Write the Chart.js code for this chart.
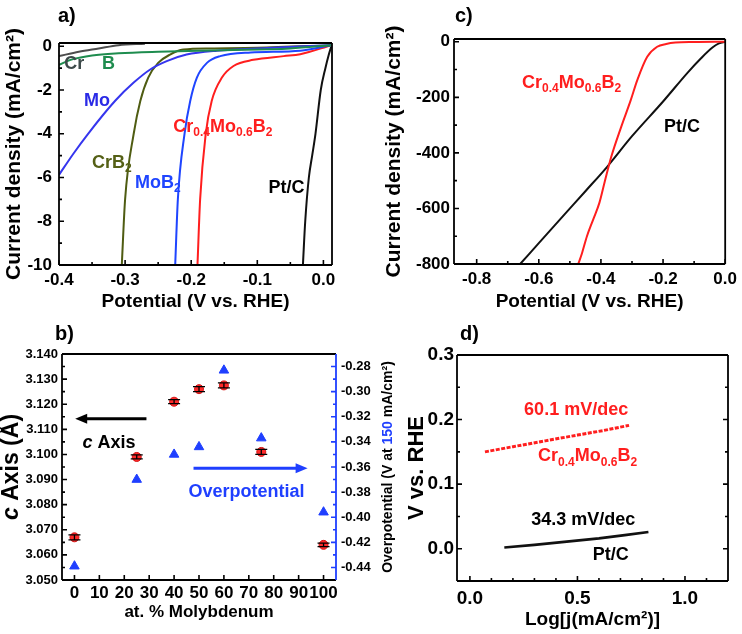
<!DOCTYPE html>
<html>
<head>
<meta charset="utf-8">
<script src="https://cdn.jsdelivr.net/npm/chart.js@4.4.0/dist/chart.umd.min.js"></script>
<style>
  body { margin: 0; background: #fff; }
  #wrap { position: relative; width: 742px; height: 634px; overflow: hidden; background: #fff; }
  canvas { position: absolute; }
  .tag { position: absolute; font: bold 20px "Liberation Sans", Arial, sans-serif; line-height: 1; color: #000; }
</style>
</head>
<body>
<div id="wrap">
  <canvas id="panelA" width="371" height="318" style="left:0;top:0"></canvas>
  <canvas id="panelC" width="371" height="318" style="left:371px;top:0"></canvas>
  <canvas id="panelB" width="400" height="316" style="left:0;top:318px"></canvas>
  <canvas id="panelD" width="342" height="316" style="left:400px;top:318px"></canvas>
  <div class="tag" style="left:58px;top:5px">a)</div>
  <div class="tag" style="left:455px;top:5px">c)</div>
  <div class="tag" style="left:55px;top:323px">b)</div>
  <div class="tag" style="left:460px;top:323px">d)</div>
</div>
<script>
// a) polarisation curves, low current range (V vs. RHE, mA/cm2)
var crV = [-0.4, -0.37, -0.34, -0.31, -0.27];
var crJ = [-0.45, -0.25, -0.1, 0.05, 0.12];
var bV = [-0.4, -0.38, -0.35, -0.31, -0.25, -0.15, -0.05, 0.012];
var bJ = [-0.85, -0.6, -0.42, -0.32, -0.25, -0.18, -0.1, 0.05];
var moV = [-0.4, -0.378, -0.356, -0.315, -0.287, -0.262, -0.237, -0.207, -0.161, -0.085, 0.012];
var moJ = [-5.88, -4.9, -4.0, -2.49, -1.66, -1.06, -0.68, -0.38, -0.2, -0.08, 0.05];
var crb2V = [-0.305, -0.3, -0.287, -0.277, -0.265, -0.25, -0.232, -0.212, -0.17, -0.1, 0.012];
var crb2J = [-10, -7, -4, -2.5, -1.43, -0.76, -0.38, -0.15, -0.1, -0.07, 0.05];
var mob2V = [-0.2242, -0.2202, -0.2101, -0.2015, -0.1914, -0.1762, -0.156, -0.11, -0.035, 0.012];
var mob2J = [-10, -7, -4, -2.5, -1.43, -0.76, -0.45, -0.28, -0.2, 0.05];
var crmoV = [-0.1905, -0.1865, -0.178, -0.169, -0.1535, -0.136, -0.106, -0.06, -0.035, 0.012];
var crmoJ = [-10, -7, -4, -2.5, -1.43, -0.9, -0.62, -0.45, -0.36, 0.05];
var ptV = [-0.031, -0.0275, -0.022, -0.017, -0.012, -0.004, 0.003, 0.008, 0.012];
var ptJ = [-10, -8, -6, -5, -4, -2, -1, -0.4, 0];

// c) high current range
var ptHiV = [-0.66, -0.6, -0.52, -0.45, -0.38, -0.3, -0.2, -0.12, -0.08, -0.04, -0.02, 0];
var ptHiJ = [-800, -725, -625, -538, -450, -340, -215, -110, -62, -20, -6, 0];
var crmoHiV = [-0.473, -0.462, -0.445, -0.425, -0.405, -0.388, -0.367, -0.335, -0.304, -0.283, -0.251, -0.219, -0.19, -0.16, -0.1, 0];
var crmoHiJ = [-800, -765, -700, -640, -580, -505, -415, -307, -210, -138, -54, -18, -8, -3, -1, 0];

// b) lattice parameter and overpotential vs Mo content
var moPct = [0, 25, 40, 50, 60, 75, 100];
var cAxis = [3.067, 3.099, 3.121, 3.126, 3.1275, 3.101, 3.064];
var cAxisErr = [0.001, 0.0008, 0.0008, 0.001, 0.001, 0.001, 0.0007];
var overpot = [-0.439, -0.370, -0.350, -0.344, -0.283, -0.337, -0.396];

// d) Tafel lines
var tafelCrMoX = [0.07, 0.2, 0.35, 0.5, 0.62, 0.74];
var tafelCrMoV = [0.150, 0.158, 0.167, 0.176, 0.183, 0.191];
var tafelPtX = [0.16, 0.3, 0.45, 0.6, 0.72, 0.83];
var tafelPtV = [0.002, 0.006, 0.011, 0.016, 0.021, 0.026];

// tick values
var aXTicks = [-0.4, -0.3, -0.2, -0.1, 0.0];
var aYTicks = [-10, -8, -6, -4, -2, 0];
var cXTicks = [-0.8, -0.6, -0.4, -0.2, 0.0];
var cYTicks = [-800, -600, -400, -200, 0];
var bXTicks = [0, 10, 20, 30, 40, 50, 60, 70, 80, 90, 100];
var bYTicks = [3.05, 3.06, 3.07, 3.08, 3.09, 3.10, 3.11, 3.12, 3.13, 3.14];
var bY1Ticks = [-0.44, -0.42, -0.40, -0.38, -0.36, -0.34, -0.32, -0.30, -0.28];
var dXTicks = [0.0, 0.5, 1.0];
var dYTicks = [0.0, 0.1, 0.2, 0.3];

var FONT = '"Liberation Sans", Arial, sans-serif';
var BLUE = '#1f3fff';
var RED = '#ff1e1e';

Chart.defaults.font.family = FONT;
Chart.defaults.font.weight = 'bold';
Chart.defaults.color = '#000';
Chart.defaults.animation = false;
Chart.defaults.plugins.legend.display = false;
Chart.defaults.plugins.tooltip.enabled = false;

function pts(xs, ys) {
    return xs.map(function (x, i) { return { x: x, y: ys[i] }; });
}

function curve(xs, ys, color, width) {
    return {
        data: pts(xs, ys),
        showLine: true,
        borderColor: color,
        borderWidth: width || 2,
        pointRadius: 0,
        cubicInterpolationMode: 'monotone',
        fill: false
    };
}

function fontFor(size, italic) {
    return (italic ? 'italic ' : '') + 'bold ' + size + 'px ' + FONT;
}

// text with sub/superscripts, italics and per-part colours
function drawRich(ctx, parts, x, y, size, color, align) {
    var segs = parts.map(function (p) {
        var s = (p.sub || p.sup) ? Math.round(size * 0.66) : size;
        ctx.font = fontFor(s, p.it);
        return { p: p, s: s, w: ctx.measureText(p.t).width };
    });
    var total = segs.reduce(function (acc, g) { return acc + g.w; }, 0);
    var cx = align === 'center' ? x - total / 2 : x;
    ctx.textBaseline = 'middle';
    ctx.textAlign = 'left';
    segs.forEach(function (g) {
        ctx.font = fontFor(g.s, g.p.it);
        ctx.fillStyle = g.p.c || color;
        var dy = g.p.sub ? size * 0.32 : (g.p.sup ? -size * 0.35 : 0);
        ctx.fillText(g.p.t, cx, y + dy);
        cx += g.w;
    });
}

var crMoB2 = [{ t: 'Cr' }, { t: '0.4', sub: 1 }, { t: 'Mo' }, { t: '0.6', sub: 1 }, { t: 'B' }, { t: '2', sub: 1 }];

function axis(o) {
    return {
        type: 'linear',
        position: o.position,
        min: o.min,
        max: o.max,
        grid: { display: false, drawTicks: false },
        border: { display: false },
        afterBuildTicks: function (s) {
            s.ticks = o.ticks.map(function (v) { return { value: v }; });
        },
        afterFit: function (s) {
            if (s.isHorizontal()) { s.height = o.size; } else { s.width = o.size; }
        },
        ticks: {
            font: { size: o.font },
            padding: o.pad,
            autoSkip: false,
            maxRotation: 0,
            minRotation: 0,
            callback: function (v) { return Number(v).toFixed(o.dec); }
        },
        title: o.title ? {
            display: true,
            text: o.title,
            font: { size: o.titleSize },
            padding: o.titlePad
        } : { display: false }
    };
}

// box border and inward ticks (major + minor)
var framePlugin = {
    id: 'frame',
    afterDatasetsDraw: function (chart, args, o) {
        var ctx = chart.ctx, a = chart.chartArea;
        ctx.save();
        ctx.lineWidth = 1.6;
        (o.ticks || []).forEach(function (t) {
            var sc = chart.scales[t.scale];
            var vals = sc.ticks.map(function (k) { return k.value; });
            var marks = vals.map(function (v) { return [v, 5]; });
            if (t.minor > 1) {
                var step = (vals[1] - vals[0]) / t.minor;
                for (var i = -60; i < 400; i++) {
                    if (i % t.minor === 0) continue;
                    var v = vals[0] + i * step;
                    if (v > sc.min && v < sc.max) marks.push([v, 3]);
                }
            }
            ctx.strokeStyle = t.color || '#000';
            ctx.beginPath();
            marks.forEach(function (m) {
                var p = sc.getPixelForValue(m[0]);
                if (t.edge === 'bottom') { ctx.moveTo(p, a.bottom); ctx.lineTo(p, a.bottom - m[1]); }
                if (t.edge === 'left') { ctx.moveTo(a.left, p); ctx.lineTo(a.left + m[1], p); }
                if (t.edge === 'right') { ctx.moveTo(a.right, p); ctx.lineTo(a.right - m[1], p); }
            });
            ctx.stroke();
        });
        var e = o.edges || {};
        function edge(x1, y1, x2, y2, c) {
            ctx.strokeStyle = c || '#000';
            ctx.beginPath(); ctx.moveTo(x1, y1); ctx.lineTo(x2, y2); ctx.stroke();
        }
        ctx.lineWidth = 1.8;
        edge(a.left, a.top, a.right, a.top, e.top);
        edge(a.left, a.bottom, a.right, a.bottom, e.bottom);
        edge(a.left, a.top, a.left, a.bottom, e.left);
        edge(a.right, a.top, a.right, a.bottom, e.right);
        ctx.restore();
    }
};

// labels, arrows, error bars and rotated rich titles
var notesPlugin = {
    id: 'notes',
    afterDatasetsDraw: function (chart, args, o) {
        var ctx = chart.ctx;
        ctx.save();
        if (o.errors) {
            var meta = chart.getDatasetMeta(o.errors.dataset);
            var ys = chart.scales[o.errors.scale];
            var src = chart.data.datasets[o.errors.dataset].data;
            var cap = o.errors.cap;
            ctx.strokeStyle = '#000';
            ctx.lineWidth = 1.3;
            meta.data.forEach(function (pt, i) {
                var v = src[i].y, e = o.errors.values[i];
                var top = ys.getPixelForValue(v + e), bot = ys.getPixelForValue(v - e);
                ctx.beginPath();
                ctx.moveTo(pt.x, top); ctx.lineTo(pt.x, bot);
                ctx.moveTo(pt.x - cap, top); ctx.lineTo(pt.x + cap, top);
                ctx.moveTo(pt.x - cap, bot); ctx.lineTo(pt.x + cap, bot);
                ctx.stroke();
            });
        }
        (o.arrows || []).forEach(function (ar) {
            var xs = chart.scales.x, ys = chart.scales[ar.ys || 'y'];
            var x1 = xs.getPixelForValue(ar.from), x2 = xs.getPixelForValue(ar.to);
            var y = ys.getPixelForValue(ar.y);
            var dir = x2 > x1 ? 1 : -1;
            ctx.strokeStyle = ar.color;
            ctx.fillStyle = ar.color;
            ctx.lineWidth = 3;
            ctx.beginPath();
            ctx.moveTo(x1, y); ctx.lineTo(x2 - dir * 10, y);
            ctx.stroke();
            ctx.beginPath();
            ctx.moveTo(x2, y);
            ctx.lineTo(x2 - dir * 12, y - 5);
            ctx.lineTo(x2 - dir * 12, y + 5);
            ctx.closePath();
            ctx.fill();
        });
        (o.items || []).forEach(function (it) {
            var x = chart.scales[it.xs || 'x'].getPixelForValue(it.x);
            var y = chart.scales[it.ys || 'y'].getPixelForValue(it.y);
            drawRich(ctx, it.parts, x, y, it.size, it.color, 'left');
        });
        (o.vtitles || []).forEach(function (t) {
            var a = chart.chartArea;
            ctx.save();
            ctx.translate(t.x, (a.top + a.bottom) / 2);
            ctx.rotate(-Math.PI / 2);
            drawRich(ctx, t.parts, 0, 0, t.size, '#000', 'center');
            ctx.restore();
        });
        ctx.restore();
    }
};

// ---- panel a ----
new Chart(document.getElementById('panelA'), {
    type: 'scatter',
    data: {
        datasets: [
            curve(crV, crJ, '#4d4d4d'),
            curve(bV, bJ, '#1e8c4e'),
            curve(moV, moJ, '#3535ee'),
            curve(crb2V, crb2J, '#4f5c12'),
            curve(mob2V, mob2J, '#1f45ff'),
            curve(crmoV, crmoJ, RED),
            curve(ptV, ptJ, '#111')
        ]
    },
    options: {
        responsive: false,
        layout: { padding: { top: 43, right: 39, left: 0, bottom: 0 } },
        scales: {
            x: axis({ position: 'bottom', min: -0.4, max: 0.013, ticks: aXTicks, size: 53, font: 17, pad: 5, dec: 1,
                title: 'Potential (V vs. RHE)', titleSize: 19, titlePad: { top: 0, bottom: 5 } }),
            y: axis({ position: 'left', min: -10, max: 0.15, ticks: aYTicks, size: 59, font: 17, pad: 7, dec: 0,
                title: 'Current density (mA/cm²)', titleSize: 21, titlePad: { top: 2, bottom: 0 } })
        },
        plugins: {
            frame: { ticks: [{ scale: 'x', edge: 'bottom', minor: 2 }, { scale: 'y', edge: 'left', minor: 2 }] },
            notes: {
                items: [
                    { x: -0.392, y: -0.81, parts: [{ t: 'Cr' }], size: 18, color: '#3d4a4a' },
                    { x: -0.335, y: -0.81, parts: [{ t: 'B' }], size: 18, color: '#1e8c4e' },
                    { x: -0.362, y: -2.49, parts: [{ t: 'Mo' }], size: 18, color: '#2a2ae6' },
                    { x: -0.35, y: -5.34, parts: [{ t: 'CrB' }, { t: '2', sub: 1 }], size: 18, color: '#556016' },
                    { x: -0.285, y: -6.24, parts: [{ t: 'MoB' }, { t: '2', sub: 1 }], size: 18, color: '#1f45ff' },
                    { x: -0.227, y: -3.71, parts: crMoB2, size: 18, color: RED },
                    { x: -0.083, y: -6.47, parts: [{ t: 'Pt/C' }], size: 18, color: '#000' }
                ]
            }
        }
    },
    plugins: [framePlugin, notesPlugin]
});

// ---- panel c ----
new Chart(document.getElementById('panelC'), {
    type: 'scatter',
    data: {
        datasets: [
            curve(crmoHiV, crmoHiJ, RED),
            curve(ptHiV, ptHiJ, '#111')
        ]
    },
    options: {
        responsive: false,
        layout: { padding: { top: 39, right: 13, left: 0, bottom: 0 } },
        scales: {
            x: axis({ position: 'bottom', min: -0.873, max: 0.0, ticks: cXTicks, size: 54, font: 17, pad: 5, dec: 1,
                title: 'Potential (V vs. RHE)', titleSize: 19, titlePad: { top: 0, bottom: 5 } }),
            y: axis({ position: 'left', min: -800, max: 10, ticks: cYTicks, size: 83, font: 17, pad: 4, dec: 0,
                title: 'Current density (mA/cm²)', titleSize: 21, titlePad: { top: 11, bottom: 0 } })
        },
        plugins: {
            frame: { ticks: [{ scale: 'x', edge: 'bottom', minor: 2 }, { scale: 'y', edge: 'left', minor: 2 }] },
            notes: {
                items: [
                    { x: -0.654, y: -149, parts: crMoB2, size: 18, color: RED },
                    { x: -0.197, y: -308, parts: [{ t: 'Pt/C' }], size: 18, color: '#000' }
                ]
            }
        }
    },
    plugins: [framePlugin, notesPlugin]
});

// ---- panel b ----
new Chart(document.getElementById('panelB'), {
    type: 'scatter',
    data: {
        datasets: [
            {
                data: pts(moPct, cAxis),
                yAxisID: 'y',
                pointStyle: 'circle',
                pointRadius: 4.5,
                backgroundColor: '#ff2a2a',
                borderColor: '#d41515',
                borderWidth: 1
            },
            {
                data: pts(moPct, overpot),
                yAxisID: 'y1',
                pointStyle: 'triangle',
                pointRadius: 5.5,
                backgroundColor: BLUE,
                borderColor: BLUE,
                borderWidth: 1
            }
        ]
    },
    options: {
        responsive: false,
        layout: { padding: { top: 36, right: 0, left: 0, bottom: 0 } },
        scales: {
            x: axis({ position: 'bottom', min: -5, max: 105, ticks: bXTicks, size: 54, font: 17, pad: 3, dec: 0,
                title: 'at. % Molybdenum', titleSize: 17, titlePad: { top: 0, bottom: 11 } }),
            y: axis({ position: 'left', min: 3.05, max: 3.14, ticks: bYTicks, size: 62, font: 13, pad: 4, dec: 3 }),
            y1: axis({ position: 'right', min: -0.45, max: -0.27, ticks: bY1Ticks, size: 64, font: 13, pad: 5, dec: 2 })
        },
        plugins: {
            frame: {
                edges: { right: BLUE },
                ticks: [
                    { scale: 'x', edge: 'bottom', minor: 1 },
                    { scale: 'y', edge: 'left', minor: 2 },
                    { scale: 'y1', edge: 'right', minor: 2, color: BLUE }
                ]
            },
            notes: {
                errors: { dataset: 0, scale: 'y', values: cAxisErr, cap: 6 },
                arrows: [
                    { from: 28.9, to: 0.3, y: 3.1142, color: '#000' },
                    { from: 47.8, to: 93.6, y: -0.361, ys: 'y1', color: BLUE }
                ],
                items: [
                    { x: 3.2, y: 3.1047, parts: [{ t: 'c', it: 1 }, { t: ' Axis' }], size: 18, color: '#000' },
                    { x: 45.8, y: -0.38, ys: 'y1', parts: [{ t: 'Overpotential' }], size: 18, color: BLUE }
                ],
                vtitles: [
                    { x: 12, parts: [{ t: 'c', it: 1 }, { t: ' Axis (Å)' }], size: 23 },
                    { x: 388, parts: [{ t: 'Overpotential (V at ' }, { t: '150', c: BLUE }, { t: ' mA/cm²)' }], size: 14 }
                ]
            }
        }
    },
    plugins: [framePlugin, notesPlugin]
});

// ---- panel d ----
var dRed = curve(tafelCrMoX, tafelCrMoV, RED, 3);
dRed.borderDash = [4, 1.5];
dRed.cubicInterpolationMode = 'default';
var dBlack = curve(tafelPtX, tafelPtV, '#111', 2.6);
dBlack.cubicInterpolationMode = 'default';

new Chart(document.getElementById('panelD'), {
    type: 'scatter',
    data: { datasets: [dRed, dBlack] },
    options: {
        responsive: false,
        layout: { padding: { top: 37, right: 14, left: 0, bottom: 0 } },
        scales: {
            x: axis({ position: 'bottom', min: -0.06, max: 1.2, ticks: dXTicks, size: 53, font: 19, pad: 6, dec: 1,
                title: 'Log[j(mA/cm²)]', titleSize: 19, titlePad: { top: 0, bottom: 3 } }),
            y: axis({ position: 'left', min: -0.05, max: 0.3, ticks: dYTicks, size: 57, font: 19, pad: 3, dec: 1,
                title: 'V vs. RHE', titleSize: 22, titlePad: { top: 4, bottom: 0 } })
        },
        plugins: {
            frame: {
                ticks: [
                    { scale: 'x', edge: 'bottom', minor: 5 },
                    { scale: 'y', edge: 'left', minor: 2 },
                    { scale: 'y', edge: 'right', minor: 2 }
                ]
            },
            notes: {
                items: [
                    { x: 0.252, y: 0.2147, parts: [{ t: '60.1 mV/dec' }], size: 18, color: RED },
                    { x: 0.317, y: 0.1429, parts: crMoB2, size: 18, color: RED },
                    { x: 0.285, y: 0.044, parts: [{ t: '34.3 mV/dec' }], size: 18, color: '#000' },
                    { x: 0.571, y: -0.0104, parts: [{ t: 'Pt/C' }], size: 18, color: '#000' }
                ]
            }
        }
    },
    plugins: [framePlugin, notesPlugin]
});
</script>
</body>
</html>
